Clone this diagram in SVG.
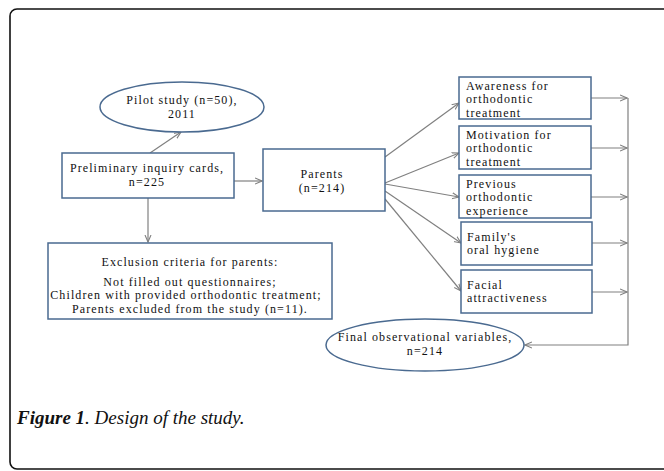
<svg xmlns="http://www.w3.org/2000/svg" width="664" height="471" viewBox="0 0 664 471">
<defs>
<style>
.box{fill:#fff;stroke:#4a6a90;stroke-width:1.5}
.t{font-family:"Liberation Serif","Times New Roman",serif;font-size:12px;letter-spacing:1.1px;fill:#111}
.c{text-anchor:middle}
.ln{stroke:#808080;stroke-width:1.2;fill:none}
.cap{font-family:"Liberation Serif","Times New Roman",serif;font-size:19px;font-style:italic;fill:#111}
</style>
<marker id="ah" markerWidth="8" markerHeight="8" refX="7" refY="4" orient="auto" markerUnits="userSpaceOnUse">
<path d="M0,1 L7,4 L0,7" fill="none" stroke="#808080" stroke-width="1.1"/>
</marker>
</defs>
<rect x="10" y="9" width="700" height="460" rx="7" fill="#fff" stroke="#111" stroke-width="1.6"/>

<g id="connectors">
<line class="ln" x1="150" y1="153" x2="181" y2="132" marker-end="url(#ah)"/>
<line class="ln" x1="234" y1="181" x2="262" y2="181" marker-end="url(#ah)"/>
<line class="ln" x1="148" y1="198" x2="148" y2="242" marker-end="url(#ah)"/>
<line class="ln" x1="385" y1="157" x2="459" y2="103" marker-end="url(#ah)"/>
<line class="ln" x1="385" y1="183" x2="459" y2="153" marker-end="url(#ah)"/>
<line class="ln" x1="385" y1="184" x2="459" y2="197" marker-end="url(#ah)"/>
<line class="ln" x1="385" y1="191" x2="461" y2="243" marker-end="url(#ah)"/>
<line class="ln" x1="385" y1="199" x2="461" y2="291" marker-end="url(#ah)"/>
<line class="ln" x1="591" y1="98" x2="627" y2="98" marker-end="url(#ah)"/>
<line class="ln" x1="591" y1="148" x2="627" y2="148" marker-end="url(#ah)"/>
<line class="ln" x1="591" y1="197" x2="627" y2="197" marker-end="url(#ah)"/>
<line class="ln" x1="592" y1="243" x2="627" y2="243" marker-end="url(#ah)"/>
<line class="ln" x1="592" y1="292" x2="627" y2="292" marker-end="url(#ah)"/>
<polyline class="ln" points="628,98 628,345 525,345" marker-end="url(#ah)"/>
</g>

<g id="pilot">
<ellipse class="box" cx="182" cy="107" rx="82" ry="25"/>
<text class="t c" x="182" y="104">Pilot study (n=50),</text>
<text class="t c" x="182" y="117.5">2011</text>
</g>

<g id="preliminary">
<rect class="box" x="62" y="153" width="172" height="45"/>
<text class="t c" x="147" y="172">Preliminary inquiry cards,</text>
<text class="t c" x="147" y="185.5">n=225</text>
</g>

<g id="parents">
<rect class="box" x="263" y="149" width="122" height="62"/>
<text class="t c" x="322" y="178">Parents</text>
<text class="t c" x="322" y="191.5">(n=214)</text>
</g>

<g id="exclusion">
<rect class="box" x="48" y="243" width="284" height="76"/>
<text class="t c" x="190" y="266">Exclusion criteria for parents:</text>
<text class="t c" x="190" y="285.5">Not filled out questionnaires;</text>
<text class="t c" x="186" y="299">Children with provided orthodontic treatment;</text>
<text class="t c" x="190" y="312.5">Parents excluded from the study (n=11).</text>
</g>

<g id="awareness">
<rect class="box" x="459" y="77" width="132" height="42"/>
<text class="t" x="466" y="89.5">Awareness for</text>
<text class="t" x="466" y="103">orthodontic</text>
<text class="t" x="466" y="116.5">treatment</text>
</g>

<g id="motivation">
<rect class="box" x="459" y="126" width="132" height="43"/>
<text class="t" x="466" y="138.5">Motivation for</text>
<text class="t" x="466" y="152">orthodontic</text>
<text class="t" x="466" y="165.5">treatment</text>
</g>

<g id="previous">
<rect class="box" x="459" y="175" width="132" height="43"/>
<text class="t" x="466" y="187.5">Previous</text>
<text class="t" x="466" y="201">orthodontic</text>
<text class="t" x="466" y="214.5">experience</text>
</g>

<g id="family">
<rect class="box" x="461" y="222" width="131" height="43"/>
<text class="t" x="467" y="240.5">Family's</text>
<text class="t" x="467" y="254">oral hygiene</text>
</g>

<g id="facial">
<rect class="box" x="461" y="270" width="131" height="43"/>
<text class="t" x="467" y="288.5">Facial</text>
<text class="t" x="467" y="302">attractiveness</text>
</g>

<g id="final">
<ellipse class="box" cx="425" cy="345" rx="99" ry="26"/>
<text class="t c" x="425" y="341">Final observational variables,</text>
<text class="t c" x="425" y="354.5">n=214</text>
</g>

<text class="cap" x="17" y="424"><tspan font-weight="bold">Figure 1</tspan>. Design of the study.</text>
</svg>
